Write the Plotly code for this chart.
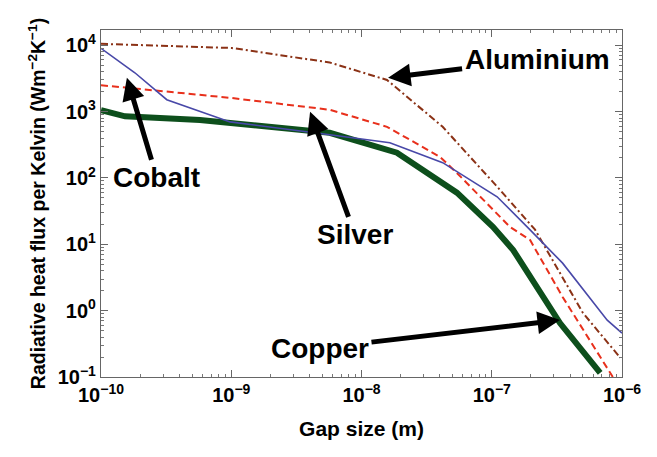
import plotly.graph_objects as go

# ---- data ----
al_x = [1e-10, 1.01e-9, 5.7e-9, 1.57e-8, 4.2e-8, 1.1e-7, 2.15e-7, 5.0e-7, 9.7e-7]
al_y = [10500, 9100, 5500, 3000, 590, 74, 16.6, 0.93, 0.195]

co_x = [1e-10, 1.82e-10, 3.2e-10, 9.8e-10, 5.7e-9, 1.65e-8, 4.2e-8, 1.1e-7, 1.97e-7, 3.5e-7, 7.7e-7, 1e-6]
co_y = [9000, 3850, 1510, 700, 447, 340, 170, 52, 16.5, 5.2, 0.72, 0.46]

ag_x = [1e-10, 9.8e-10, 5.7e-9, 1.57e-8, 4.0e-8, 5.4e-8, 1.38e-7, 1.97e-7, 3.5e-7, 8.5e-7]
ag_y = [2500, 1615, 1065, 590, 208, 119, 18.3, 11.6, 1.61, 0.1]

cu_x = [1e-10, 1.53e-10, 5.75e-10, 1.01e-9, 5.7e-9, 1.87e-8, 5.4e-8, 1.02e-7, 1.46e-7, 3.34e-7, 6.8e-7]
cu_y = [1050, 850, 750, 675, 480, 240, 60, 18.3, 8.2, 0.65, 0.115]

x_exps = [-10, -9, -8, -7, -6]
y_exps = [-1, 0, 1, 2, 3, 4]

# labelled arrows: text, arrow tip (gap, flux)
label_text = ["Aluminium", "Cobalt", "Silver", "Copper"]
label_tip_x = [1.6e-8, 1.58e-10, 4.03e-9, 3.34e-7]
label_tip_y = [3240, 3240, 993, 0.72]

FONT = "Liberation Sans, Arial, Helvetica, sans-serif"


def pow_labels(exps):
    return [f"10<sup>{'−' if e < 0 else ''}{abs(e)}</sup>" for e in exps]


def minor_vals(exps):
    vals = []
    for e in exps[:-1]:
        vals += [m * 10.0 ** e for m in range(2, 10)]
    return vals


fig = go.Figure()
fig.add_trace(go.Scatter(x=al_x, y=al_y, mode="lines", name="Aluminium",
                         line=dict(color="#8b3216", width=2, dash="7px,3px,2px,3px")))
fig.add_trace(go.Scatter(x=ag_x, y=ag_y, mode="lines", name="Silver",
                         line=dict(color="#e8301c", width=2, dash="7px,4px")))
fig.add_trace(go.Scatter(x=cu_x, y=cu_y, mode="lines", name="Copper",
                         line=dict(color="#0d4f1c", width=6)))
fig.add_trace(go.Scatter(x=co_x, y=co_y, mode="lines", name="Cobalt",
                         line=dict(color="#4848a8", width=1.6)))

axis_common = dict(
    type="log", showgrid=False, zeroline=False, automargin=False,
    showline=True, linecolor="#666", linewidth=1.2, mirror="allticks",
    ticks="inside", ticklen=7, tickcolor="#666", tickwidth=1,
    tickfont=dict(family=FONT, size=20, color="black", weight="bold"),
)

fig.update_xaxes(**axis_common, range=[-10, -6],
                 tickmode="array", tickvals=[10.0 ** e for e in x_exps], ticktext=pow_labels(x_exps),
                 minor=dict(ticks="inside", ticklen=3, tickcolor="#777", showgrid=False,
                            tickmode="array", tickvals=minor_vals(x_exps)),
                 title=dict(text="Gap size (m)", standoff=16,
                            font=dict(family=FONT, size=21, color="black", weight="bold")))
fig.update_yaxes(**axis_common, range=[-1, 4.23],
                 tickmode="array", tickvals=[10.0 ** e for e in y_exps], ticktext=pow_labels(y_exps),
                 minor=dict(ticks="inside", ticklen=3, tickcolor="#777", showgrid=False,
                            tickmode="array", tickvals=minor_vals(y_exps + [5])),
                 title=dict(text="Radiative heat flux per Kelvin (Wm<sup>−2</sup>K<sup>−1</sup>)", standoff=6,
                            font=dict(family=FONT, size=19.5, color="black", weight="bold")))

lab_font = dict(family=FONT, size=28, color="black", weight="bold")

# pixel offsets from arrow tip to text centre
offsets = [(149, -18), (30, 100), (45, 123), (-240, 28)]
for txt, tx, ty, (ax, ay) in zip(label_text, label_tip_x, label_tip_y, offsets):
    fig.add_annotation(x=__import__("math").log10(tx), y=__import__("math").log10(ty),
                       xref="x", yref="y", ax=ax, ay=ay, text=txt, font=lab_font,
                       showarrow=True, arrowhead=2, arrowsize=0.9, arrowwidth=5,
                       arrowcolor="black", borderpad=2)

# page body adds an 8px offset; figure is shrunk/shifted to compensate
OFF = 8
W, H = 657 - OFF, 457 - OFF
L, T = 101 - OFF, 30 - OFF
R = W - L - 521
B = H - T - 347

fig.update_layout(
    width=W, height=H,
    margin=dict(l=L, r=R, t=T, b=B),
    paper_bgcolor="white", plot_bgcolor="white",
    showlegend=False,
)

fig.write_html("out.html")
